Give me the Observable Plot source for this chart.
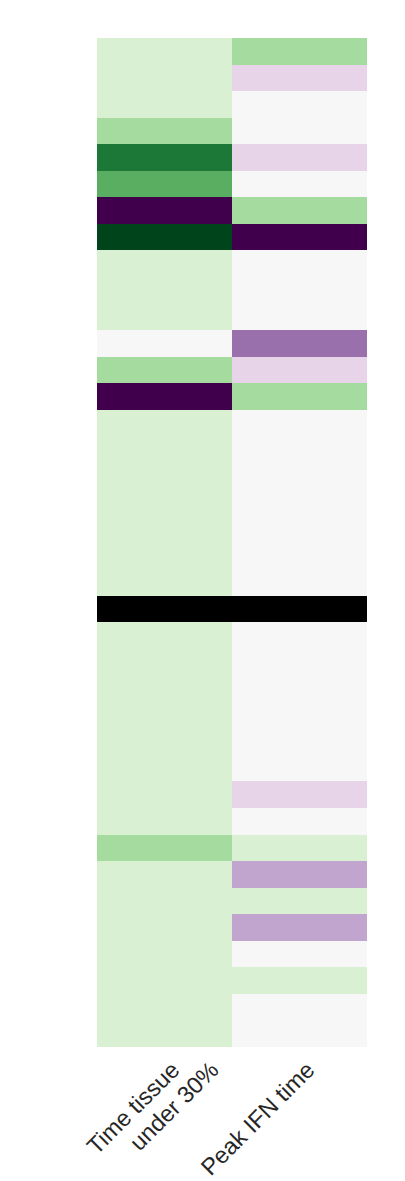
<!DOCTYPE html>
<html><head><meta charset="utf-8">
<script src="https://cdn.jsdelivr.net/npm/d3@7"></script>
<script src="https://cdn.jsdelivr.net/npm/@observablehq/plot@0.6"></script>
<style>body{margin:0;background:#fff}</style>
</head><body><div id="chart"></div>
<script>
// Column (tick) labels
const columns = ["Time tissue\nunder 30%", "Peak IFN time"];
// Discrete PRGn levels (-5 = darkest purple … 5 = darkest green); null = missing (drawn black)
const levels = [-5, -4, -3, -2, -1, 0, 1, 2, 3, 4, 5];
const timeTissueUnder30 = [1, 1, 1, 2, 4, 3, -5, 5, 1, 1, 1, 0, 2, -5, 1, 1, 1, 1, 1, 1, 1, null, 1, 1, 1, 1, 1, 1, 1, 1, 2, 1, 1, 1, 1, 1, 1, 1];
const peakIFNTime       = [2, -1, 0, 0, -1, 0, 2, -5, 0, 0, 0, -3, -1, 2, 0, 0, 0, 0, 0, 0, 0, null, 0, 0, 0, 0, 0, 0, -1, 0, 1, -2, 1, -2, 0, 1, 0, 0];

const series = [timeTissueUnder30, peakIFNTime];
const rows = d3.range(timeTissueUnder30.length);
const table = [];
columns.forEach((c, j) => series[j].forEach((v, i) => table.push({col: c, row: i, value: v})));
const labelLines = columns.flatMap(c => c.split("\n").map((t, k) => ({col: c, text: t, line: k})));

const font = "'Liberation Sans', Arial, Helvetica, sans-serif";
const chart = Plot.plot({
  width: 405, height: 1181,
  marginTop: 38, marginBottom: 134, marginLeft: 97, marginRight: 38,
  style: {fontFamily: font, background: "#fff"},
  x: {type: "band", domain: columns, padding: 0, round: false, axis: null},
  y: {type: "band", domain: rows, padding: 0, round: false, axis: null},
  color: {type: "ordinal", domain: levels, range: d3.schemePRGn[11]},
  marks: [
    Plot.cell(table.filter(d => d.value != null), {x: "col", y: "row", fill: "value", shapeRendering: "crispEdges"}),
    Plot.cell(table.filter(d => d.value == null), {x: "col", y: "row", fill: "black", shapeRendering: "crispEdges"}),
    Plot.text(labelLines.filter(d => d.line === 0), {x: "col", text: "text", frameAnchor: "bottom", textAnchor: "end", lineAnchor: "bottom", rotate: -45, dx: 16, dy: 24, fontSize: 23.5, fill: "#262626"}),
    Plot.text(labelLines.filter(d => d.line === 1), {x: "col", text: "text", frameAnchor: "bottom", textAnchor: "end", lineAnchor: "bottom", rotate: -45, dx: 55, dy: 24, fontSize: 23.5, fill: "#262626"})
  ]
});
document.getElementById("chart").appendChild(chart);
</script>
</body></html>
